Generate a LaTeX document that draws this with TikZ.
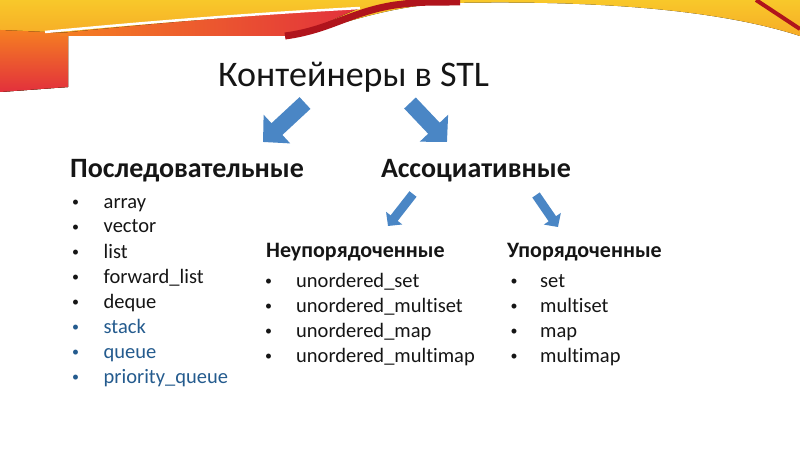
\documentclass[tikz,border=0pt]{standalone}
\usepackage{fontspec}
\setmainfont[Ligatures=NoCommon]{Carlito}
\usetikzlibrary{positioning}
\usetikzlibrary{arrows.meta}

\definecolor{swyel}{HTML}{F8C82A}
\definecolor{sworg}{HTML}{F57F22}
\definecolor{swred}{HTML}{E2303C}
\definecolor{swdark}{HTML}{B0141C}
\definecolor{arrblue}{HTML}{4A86C5}
\definecolor{txtblk}{HTML}{151515}
\definecolor{txtblue}{HTML}{245B8E}

\newcommand{\bul}[1]{\makebox[#1][l]{\raisebox{1.8pt}{\fontsize{14}{14}\selectfont\textbullet}}}

\begin{document}
\begin{tikzpicture}[x=1pt, y=-1pt,
    ttl/.style = {anchor=base west, inner sep=0pt, text=txtblk, font=\fontsize{36}{40}\selectfont},
    heading/.style = {anchor=base west, inner sep=0pt, text=txtblk, font=\fontsize{28}{30}\selectfont\bfseries},
    subhead/.style = {anchor=base west, inner sep=0pt, text=txtblk, font=\fontsize{22}{24}\selectfont\bfseries},
    entry/.style = {anchor=base west, inner sep=0pt, text=txtblk, font=\fontsize{20.5}{24}\selectfont},
    bigarr/.style = {draw=arrblue, line width=16pt, -{Triangle[length=19pt,width=38pt]}},
    smallarr/.style = {draw=arrblue, line width=9pt, -{Triangle[length=10pt,width=20pt]}}]
    \useasboundingbox (0,0) rectangle (800,449);
    \fill[white] (0,0) rectangle (800,449);

    % swoosh on top
    \fill[top color=swyel, bottom color=sworg] (0,0) -- (800,0) -- (800,36)
        .. controls (720,10) and (600,0) .. (450,3)
        .. controls (380,6) and (330,30) .. (290,36) -- (68,36) -- (68,87) -- (0,92) -- cycle;
    \fill[top color=sworg, bottom color=swred] (0,30) -- (68,33) -- (68,87) -- (0,92) -- cycle;
    \fill[left color=sworg, right color=swred] (60,33) .. controls (150,24) and (250,15) .. (360,8)
        .. controls (330,20) and (310,32) .. (290,36) -- (60,36) -- cycle;
    \draw[swdark, line width=7pt] (285,36) .. controls (330,30) and (350,12) .. (395,5)
        .. controls (420,2) .. (460,2);
    \draw[white, line width=2.5pt] (45,32) .. controls (150,22) and (250,14) .. (360,8);
    \draw[swdark, line width=4pt] (756,0) -- (800,29);

    \node[ttl] (cont) at (218,87) {Контейнеры в STL};
    \node[heading] (seq) at (70,178) {Последовательные};
    \node[heading] (assoc) at (381,178) {Ассоциативные};
    \node[subhead] (unord) at (266,257) {Неупорядоченные};
    \node[subhead] (ord) at (507,257) {Упорядоченные};

    \foreach \t [count=\i] in {array, vector, list, forward\_list, deque}
        \node[entry] (seq\i) at (72,183+25*\i) {\bul{31.5pt}\t};
    \foreach \t [count=\i from 6] in {stack, queue, priority\_queue}
        \node[entry, text=txtblue] (seq\i) at (72,183+25*\i) {\bul{31.5pt}\t};
    \foreach \t [count=\i] in {unordered\_set, unordered\_multiset, unordered\_map, unordered\_multimap}
        \node[entry] (un\i) at (265,262+25*\i) {\bul{31pt}\t};
    \foreach \t [count=\i] in {set, multiset, map, multimap}
        \node[entry] (or\i) at (510.5,262+25*\i) {\bul{29.5pt}\t};

    \coordinate (a1) at (305,103);
    \coordinate (b1) at (263,142);
    \coordinate (a2) at (410,103);
    \coordinate (b2) at (447,142);
    \coordinate (a3) at (413,194);
    \coordinate (b3) at (388,226);
    \coordinate (a4) at (536,195);
    \coordinate (b4) at (558,227);

    \draw[bigarr] (a1) -- (b1);
    \draw[bigarr] (a2) -- (b2);
    \draw[smallarr] (a3) -- (b3);
    \draw[smallarr] (a4) -- (b4);
\end{tikzpicture}
\end{document}
